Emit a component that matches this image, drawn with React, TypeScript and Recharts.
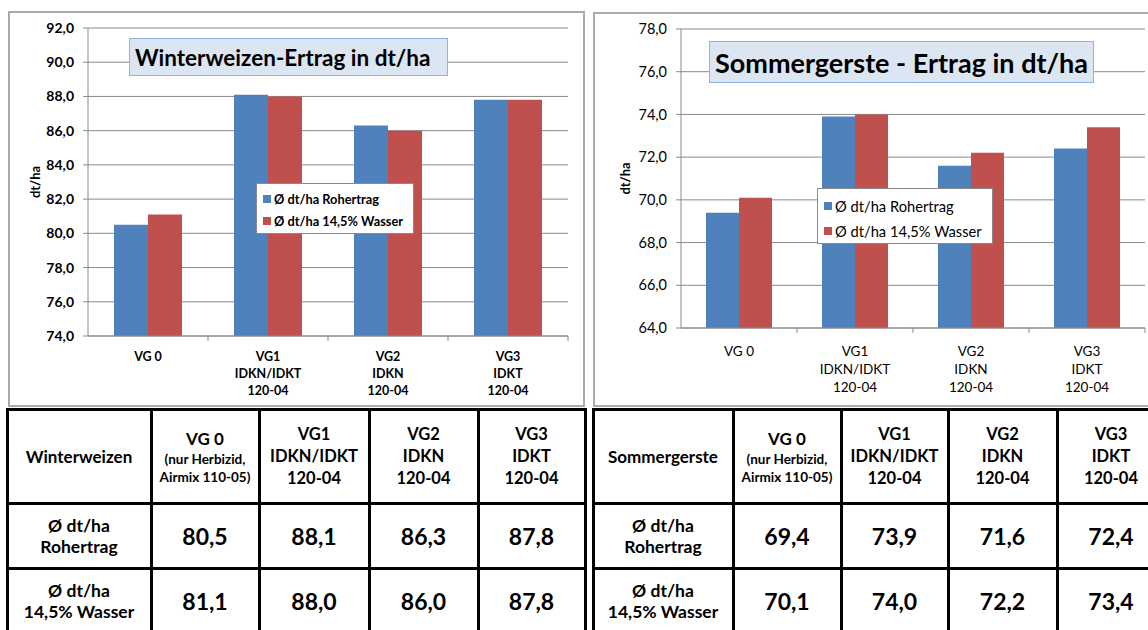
import React from 'react';
import { BarChart, Bar, XAxis, YAxis, CartesianGrid, Legend, Label } from 'recharts';

// categories / series
const categories = ['VG 0', 'VG1\nIDKN/IDKT\n120-04', 'VG2\nIDKN\n120-04', 'VG3\nIDKT\n120-04'];
const seriesNames = ['Ø dt/ha Rohertrag', 'Ø dt/ha 14,5% Wasser'];
const wwRohertrag = [80.5, 88.1, 86.3, 87.8];
const wwWasser = [81.1, 88.0, 86.0, 87.8];
const sgRohertrag = [69.4, 73.9, 71.6, 72.4];
const sgWasser = [70.1, 74.0, 72.2, 73.4];
const wwTicks = [74, 76, 78, 80, 82, 84, 86, 88, 90, 92];
const sgTicks = [64, 66, 68, 70, 72, 74, 76, 78];

// table text
const tableHeads = [
  ['VG 0', '(nur Herbizid,', 'Airmix 110-05)'],
  ['VG1', 'IDKN/IDKT', '120-04'],
  ['VG2', 'IDKN', '120-04'],
  ['VG3', 'IDKT', '120-04'],
];
const rowLabels = [
  ['Ø dt/ha', 'Rohertrag'],
  ['Ø dt/ha', '14,5% Wasser'],
];

const BLUE = '#4f81bd';
const RED = '#c0504d';
const GRID = '#8a8a8a';
const FONT = 'Lato, "Open Sans", sans-serif';

const fmt = (v: number) => v.toFixed(1).replace('.', ',');

function CategoryTick(props: any) {
  const { x, y, payload, band, bold, fontSize, lineH, firstDy } = props;
  const lines = String(payload.value).split('\n');
  return (
    <g>
      <line x1={x + band / 2} x2={x + band / 2} y1={y} y2={y + 5} stroke={GRID} />
      <text
        x={x}
        y={y + firstDy}
        textAnchor="middle"
        fontFamily={FONT}
        fontSize={fontSize}
        fontWeight={bold ? 700 : 400}
        fill="#000"
      >
        {lines.map((l, i) => (
          <tspan key={i} x={x} dy={i === 0 ? 0 : lineH}>
            {l}
          </tspan>
        ))}
      </text>
    </g>
  );
}

interface ChartProps {
  title: string;
  roh: number[];
  wasser: number[];
  ticks: number[];
  pos: { left: number; top: number; width: number; height: number };
  box: { left: number; top: number; width: number; height: number };
  titleBox: { left: number; top: number; width: number; height: number; fontSize: number };
  margin: { top: number; right: number; left: number; bottom: number };
  yWidth: number;
  xHeight: number;
  barSize: number;
  bold: boolean;
  tickFont: number;
  catFont: number;
  lineH: number;
  firstDy: number;
  labelX: number;
  legend: { left: number; top: number; width: number; height: number; font: number; rowH: number };
}

function YieldChart(p: ChartProps) {
  const data = categories.map((c, i) => ({ name: c, roh: p.roh[i], wasser: p.wasser[i] }));
  const plotW = p.pos.width - p.yWidth - p.margin.left - p.margin.right;
  const band = plotW / categories.length;
  const weight = p.bold ? 700 : 400;

  const renderLegend = (lp: any) => {
    const items = [...(lp.payload || [])].sort(
      (a: any, b: any) => seriesNames.indexOf(a.value) - seriesNames.indexOf(b.value)
    );
    return (
      <div
        style={{
          width: p.legend.width,
          height: p.legend.height,
          boxSizing: 'border-box',
          border: '1px solid #8a8a8a',
          background: '#fff',
          padding: '4px 0 0 6px',
          fontFamily: FONT,
          fontSize: p.legend.font,
          fontWeight: weight,
          color: '#000',
        }}
      >
        {items.map((e: any, i: number) => (
          <div key={i} style={{ display: 'flex', alignItems: 'center', height: p.legend.rowH }}>
            <span style={{ width: 8, height: 8, background: e.color, marginRight: 3, display: 'inline-block' }} />
            <span style={{ whiteSpace: 'nowrap' }}>{e.value}</span>
          </div>
        ))}
      </div>
    );
  };

  const renderYLabel = (lp: any) => {
    const vb = lp.viewBox || { x: 0, y: 0, height: 0 };
    return (
      <text
        transform={`translate(${vb.x + p.labelX},${vb.y + vb.height / 2}) rotate(-90)`}
        textAnchor="middle"
        fontFamily={FONT}
        fontSize={13}
        fontWeight={700}
        fill="#000"
      >
        dt/ha
      </text>
    );
  };

  return (
    <>
      <div
        style={{
          position: 'absolute',
          left: p.box.left,
          top: p.box.top,
          width: p.box.width,
          height: p.box.height,
          boxSizing: 'border-box',
          border: '2px solid #ababab',
        }}
      />
      <div style={{ position: 'absolute', left: p.pos.left, top: p.pos.top }}>
        <BarChart
          width={p.pos.width}
          height={p.pos.height}
          data={data}
          margin={p.margin}
          barGap={0}
        >
          <CartesianGrid vertical={false} stroke={GRID} />
          <XAxis
            dataKey="name"
            height={p.xHeight}
            interval={0}
            tickSize={0}
            tickMargin={0}
            tickLine={false}
            axisLine={{ stroke: GRID }}
            tick={
              <CategoryTick
                band={band}
                bold={p.bold}
                fontSize={p.catFont}
                lineH={p.lineH}
                firstDy={p.firstDy}
              />
            }
          />
          <YAxis
            width={p.yWidth}
            domain={[p.ticks[0], p.ticks[p.ticks.length - 1]]}
            ticks={p.ticks}
            interval={0}
            tickFormatter={fmt}
            tickSize={5}
            tickMargin={9}
            axisLine={{ stroke: GRID }}
            tickLine={{ stroke: GRID }}
            tick={{ fontFamily: FONT, fontSize: p.tickFont, fontWeight: weight, fill: '#000' }}
          >
            <Label content={renderYLabel} />
          </YAxis>
          <Legend
            layout="horizontal"
            verticalAlign="middle"
            align="center"
            content={renderLegend}
            wrapperStyle={{ left: p.legend.left, top: p.legend.top, width: p.legend.width, height: p.legend.height }}
          />
          <Bar dataKey="roh" name={seriesNames[0]} fill={BLUE} barSize={p.barSize} isAnimationActive={false} />
          <Bar dataKey="wasser" name={seriesNames[1]} fill={RED} barSize={p.barSize} isAnimationActive={false} />
        </BarChart>
      </div>
      <div
        style={{
          position: 'absolute',
          left: p.titleBox.left,
          top: p.titleBox.top,
          width: p.titleBox.width,
          height: p.titleBox.height,
          boxSizing: 'border-box',
          background: '#dce6f2',
          border: '1.5px solid #8eb4e3',
          display: 'flex',
          alignItems: 'center',
          paddingLeft: 5,
          fontFamily: FONT,
          fontWeight: 700,
          fontSize: p.titleBox.fontSize,
          color: '#000',
          whiteSpace: 'nowrap',
        }}
      >
        {p.title}
      </div>
    </>
  );
}

function YieldTable({ xs, title, roh, wasser }: { xs: number[]; title: string; roh: number[]; wasser: number[] }) {
  const ys = [409, 503, 568, 634];
  const cells: React.ReactNode[] = [];
  const cellBox = (r: number, c: number, content: React.ReactNode) => (
    <div
      key={`${r}-${c}`}
      style={{
        position: 'absolute',
        left: xs[c] - 1.5,
        top: ys[r] - 1.5,
        width: xs[c + 1] - xs[c] + 3,
        height: ys[r + 1] - ys[r] + 3,
        boxSizing: 'border-box',
        border: '3px solid #000',
        display: 'flex',
        flexDirection: 'column',
        alignItems: 'center',
        justifyContent: 'center',
        textAlign: 'center',
        fontFamily: FONT,
        fontWeight: 700,
        color: '#000',
        whiteSpace: 'nowrap',
        background: '#fff',
      }}
    >
      {content}
    </div>
  );

  cells.push(cellBox(0, 0, <div style={{ fontSize: 17 }}>{title}</div>));
  tableHeads.forEach((h, i) => {
    const small = i === 0;
    cells.push(
      cellBox(
        0,
        i + 1,
        <div>
          {h.map((t, j) => (
            <div
              key={j}
              style={{
                fontSize: small ? (j === 0 ? 17 : 13.5) : 16.5,
                lineHeight: small ? (j === 0 ? '23px' : '18px') : '22px',
              }}
            >
              {t}
            </div>
          ))}
        </div>
      )
    );
  });
  [roh, wasser].forEach((vals, r) => {
    cells.push(
      cellBox(
        r + 1,
        0,
        <div style={{ fontSize: 17.5, lineHeight: '21px' }}>
          {rowLabels[r].map((t, j) => (
            <div key={j}>{t}</div>
          ))}
        </div>
      )
    );
    vals.forEach((v, i) => {
      cells.push(cellBox(r + 1, i + 1, <div style={{ fontSize: 23 }}>{fmt(v)}</div>));
    });
  });
  return <>{cells}</>;
}

export default function App() {
  return (
    <div
      style={{
        position: 'absolute',
        left: 0,
        top: 0,
        width: 1148,
        height: 630,
        overflow: 'hidden',
        background: '#fff',
      }}
    >
      <YieldChart
        title="Winterweizen-Ertrag in dt/ha"
        roh={wwRohertrag}
        wasser={wwWasser}
        ticks={wwTicks}
        box={{ left: 8, top: 11, width: 577, height: 396 }}
        pos={{ left: 9, top: 12, width: 575, height: 394 }}
        titleBox={{ left: 129, top: 38, width: 319, height: 38, fontSize: 22.5 }}
        margin={{ top: 16, right: 16, left: 0, bottom: 0 }}
        yWidth={79}
        xHeight={70}
        barSize={34}
        bold={true}
        tickFont={14}
        catFont={12.5}
        lineH={17}
        firstDy={25}
        labelX={31}
        legend={{ left: 247, top: 171, width: 158, height: 51, font: 12.8, rowH: 22 }}
      />
      <YieldChart
        title="Sommergerste - Ertrag in dt/ha"
        roh={sgRohertrag}
        wasser={sgWasser}
        ticks={sgTicks}
        box={{ left: 593, top: 12, width: 570, height: 395 }}
        pos={{ left: 594, top: 13, width: 554, height: 392 }}
        titleBox={{ left: 709, top: 41, width: 385, height: 42, fontSize: 27 }}
        margin={{ top: 16, right: 3, left: 0, bottom: 0 }}
        yWidth={87}
        xHeight={77}
        barSize={33}
        bold={false}
        tickFont={14.5}
        catFont={13.5}
        lineH={18}
        firstDy={28}
        labelX={36}
        legend={{ left: 223, top: 175, width: 176, height: 56, font: 14.7, rowH: 25 }}
      />
      <YieldTable xs={[7, 151, 259, 369, 478, 585]} title="Winterweizen" roh={wwRohertrag} wasser={wwWasser} />
      <YieldTable xs={[593, 733, 841, 948, 1057, 1165]} title="Sommergerste" roh={sgRohertrag} wasser={sgWasser} />
    </div>
  );
}
